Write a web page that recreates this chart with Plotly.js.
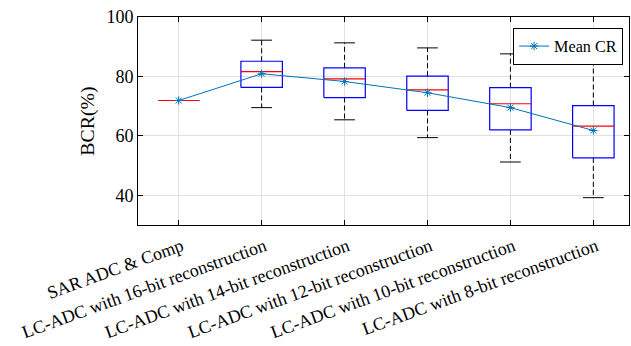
<!DOCTYPE html>
<html>
<head>
<meta charset="utf-8">
<script src="https://cdn.plot.ly/plotly-3.0.1.min.js"></script>
<style>html,body{margin:0;padding:0;background:#fff;}#chart{width:631px;height:346px;}</style>
</head>
<body>
<div id="chart"></div>
<script>
const categories = [
  "SAR ADC & Comp",
  "LC-ADC with 16-bit reconstruction",
  "LC-ADC with 14-bit reconstruction",
  "LC-ADC with 12-bit reconstruction",
  "LC-ADC with 10-bit reconstruction",
  "LC-ADC with 8-bit reconstruction"
];
const q1 = [71.9, 76.3, 72.9, 68.6, 62.0, 52.6];
const median = [71.9, 81.6, 79.2, 75.5, 70.8, 63.3];
const q3 = [71.9, 85.1, 82.9, 80.1, 76.2, 70.2];
const lowerWhisker = [71.9, 69.5, 65.4, 59.4, 51.2, 39.2];
const upperWhisker = [71.9, 92.2, 91.3, 89.6, 87.6, 84.5];
const meanCR = [71.9, 80.9, 78.3, 74.5, 69.5, 61.8];
const yTicks = [40, 60, 80, 100];

const pos = categories.map((c, i) => i + 1);
const boxHalf = 0.25, capHalf = 0.125;

const bx = [], by = [], mx = [], my = [], wx = [], wy = [], cx = [], cy = [];
pos.forEach((p, i) => {
  bx.push(p - boxHalf, p + boxHalf, p + boxHalf, p - boxHalf, p - boxHalf, null);
  by.push(q1[i], q1[i], q3[i], q3[i], q1[i], null);
  mx.push(p - boxHalf, p + boxHalf, null);
  my.push(median[i], median[i], null);
  wx.push(p, p, null, p, p, null);
  wy.push(q3[i], upperWhisker[i], null, q1[i], lowerWhisker[i], null);
  cx.push(p - capHalf, p + capHalf, null, p - capHalf, p + capHalf, null);
  cy.push(upperWhisker[i], upperWhisker[i], null, lowerWhisker[i], lowerWhisker[i], null);
});

const traces = [
  {x: wx, y: wy, mode: 'lines', line: {color: '#000', width: 1, dash: '5px,3px'}, showlegend: false, hoverinfo: 'skip'},
  {x: cx, y: cy, mode: 'lines', line: {color: '#000', width: 1}, showlegend: false, hoverinfo: 'skip'},
  {x: bx, y: by, mode: 'lines', line: {color: '#0000FF', width: 1.2}, showlegend: false, hoverinfo: 'skip'},
  {x: mx, y: my, mode: 'lines', line: {color: '#FF0000', width: 1.2}, showlegend: false, hoverinfo: 'skip'},
  {x: pos, y: meanCR, mode: 'lines+markers', name: 'Mean CR',
   line: {color: '#0072BD', width: 1},
   marker: {symbol: 'asterisk-open', size: 7, color: '#0072BD', line: {color: '#0072BD', width: 1}}}
];

const font = 'Liberation Serif';
const layout = {
  width: 631, height: 346,
  margin: {l: 138, r: 2, t: 17, b: 121},
  paper_bgcolor: '#fff', plot_bgcolor: '#fff',
  font: {family: font, color: '#000', size: 18},
  showlegend: true,
  legend: {x: 0.988, y: 0.947, xanchor: 'right', yanchor: 'top',
    bgcolor: '#fff', bordercolor: '#000', borderwidth: 1,
    font: {family: font, size: 16.2, color: '#000'}},
  xaxis: {
    range: [0.509, 6.43], tickvals: pos, ticktext: categories, tickangle: -20,
    tickfont: {family: font, size: 18, color: '#000'},
    ticklabelstandoff: 3, ticklabelshift: 3,
    showgrid: true, gridcolor: '#e0e0e0', gridwidth: 1,
    showline: true, linecolor: '#000', linewidth: 1, mirror: 'ticks',
    ticks: 'inside', ticklen: 5, tickcolor: '#000', zeroline: false
  },
  yaxis: {
    range: [30, 100], tickvals: yTicks,
    tickfont: {family: font, size: 18, color: '#000'},
    title: {text: 'BCR(%)', font: {family: font, size: 19.8, color: '#000'}, standoff: 6},
    showgrid: true, gridcolor: '#e0e0e0', gridwidth: 1,
    showline: true, linecolor: '#000', linewidth: 1, mirror: 'ticks',
    ticks: 'inside', ticklen: 5, tickcolor: '#000', zeroline: false
  }
};

Plotly.newPlot('chart', traces, layout, {displayModeBar: false, staticPlot: true});
</script>
</body>
</html>
